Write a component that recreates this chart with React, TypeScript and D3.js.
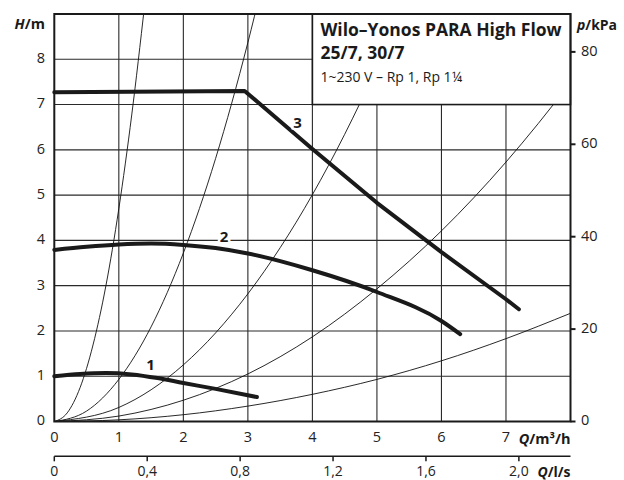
import React from "react";
import * as d3 from "d3";

// ---------- data ----------
const flowTicks = [0, 1, 2, 3, 4, 5, 6, 7];
const headTicks = [0, 1, 2, 3, 4, 5, 6, 7, 8];
const kpaTicks = [0, 20, 40, 60, 80];
const lsTicks = ["0", "0,4", "0,8", "1,2", "1,6", "2,0"];
const lsValues = [0, 0.4, 0.8, 1.2, 1.6, 2.0];

// pump curves (Q m³/h, H m)
const curve1Q = [0, 0.4, 0.8, 1.2, 1.6, 2.0, 2.5, 3.14];
const curve1H = [1.0, 1.05, 1.07, 1.04, 0.96, 0.85, 0.72, 0.54];
const curve2Q = [0, 0.5, 1, 1.5, 2, 2.5, 3, 4, 5, 6, 6.29];
const curve2H = [3.79, 3.86, 3.91, 3.93, 3.9, 3.83, 3.71, 3.34, 2.86, 2.22, 1.93];
const curve3Q = [0, 2.95, 4, 5, 6, 7, 7.2];
const curve3H = [7.27, 7.3, 6.02, 4.83, 3.74, 2.7, 2.48];

// system curves (thin)
const sysAQ = [0, 0.2, 0.4, 0.6, 0.8, 1.0, 1.2, 1.4];
const sysAH = [0, 0.19, 0.75, 1.69, 3.0, 4.7, 6.77, 9.2];
const sysBQ = [0, 0.5, 1, 1.5, 2, 2.5, 3, 3.2];
const sysBH = [0, 0.23, 0.93, 2.09, 3.72, 5.81, 8.37, 9.52];
const sysCQ = [0, 1, 2, 3, 4, 5, 5.5];
const sysCH = [0, 0.31, 1.25, 2.82, 5.01, 7.83, 9.47];
const sysDQ = [0, 1, 2, 3, 4, 5, 6, 7, 8, 8.8];
const sysDH = [0, 0.12, 0.47, 1.05, 1.87, 2.93, 4.21, 5.73, 7.49, 9.06];
const sysEQ = [0, 1, 2, 3, 4, 5, 6, 7, 8];
const sysEH = [0, 0.037, 0.15, 0.34, 0.6, 0.93, 1.34, 1.83, 2.39];

const curveLabels = ["1", "2", "3"];
const labelQ = [1.49, 2.63, 3.77];
const labelH = [1.23, 4.06, 6.58];

const titleLines = ["Wilo–Yonos PARA High Flow", "25/7, 30/7"];
const subtitle = "1~230 V – Rp 1, Rp 1¼";

// ---------- layout ----------
const W = 624;
const H = 480;
const FONT = "'Open Sans', 'DejaVu Sans', sans-serif";

const x = d3.scaleLinear().domain([0, 8]).range([54.3, 570.5]);
const y = d3.scaleLinear().domain([0, 9]).range([421.5, 14]);
const yKpa = d3.scaleLinear().domain([0, 88.2]).range([421.5, 14]);
const xLs = d3.scaleLinear().domain([0, 8 / 3.6]).range([54.3, 570.5]);

const zip = (q: number[], h: number[]) => q.map((v, i) => [v, h[i]] as [number, number]);
const line = d3
  .line<[number, number]>()
  .x((d) => x(d[0]))
  .y((d) => y(d[1]))
  .curve(d3.curveMonotoneX);
const straight = d3
  .line<[number, number]>()
  .x((d) => x(d[0]))
  .y((d) => y(d[1]));

export default function App() {
  const sys = [
    zip(sysAQ, sysAH),
    zip(sysBQ, sysBH),
    zip(sysCQ, sysCH),
    zip(sysDQ, sysDH),
    zip(sysEQ, sysEH),
  ];
  const pumps = [zip(curve1Q, curve1H), zip(curve2Q, curve2H), zip(curve3Q, curve3H)];
  const [x0, x1] = x.range();
  const yTop = y(9);
  const yBot = y(0);
  const lsY = 456.3;

  return (
    <svg
      width={W}
      height={H}
      style={{ position: "absolute", left: 0, top: 0, background: "#fff" }}
      fontFamily={FONT}
    >
      <defs>
        <clipPath id="plot">
          <rect x={x0} y={yTop} width={x1 - x0} height={yBot - yTop} />
        </clipPath>
      </defs>
      <rect width={W} height={H} fill="#fff" />
      {/* grid */}
      <g stroke="#2a2a2a" strokeWidth={1.1}>
        {d3.range(1, 8).map((v) => (
          <line key={"gx" + v} x1={x(v)} x2={x(v)} y1={yTop} y2={yBot} />
        ))}
        {d3.range(1, 9).map((v) => (
          <line key={"gy" + v} x1={x0} x2={x1} y1={y(v)} y2={y(v)} />
        ))}
      </g>
      {/* system curves */}
      <g clipPath="url(#plot)" fill="none" stroke="#111" strokeWidth={0.9}>
        {sys.map((s, i) => (
          <path key={"s" + i} d={line(s) || ""} />
        ))}
      </g>
      {/* pump curves */}
      <g fill="none" stroke="#1a1a1a" strokeWidth={4} strokeLinecap="round" strokeLinejoin="round">
        {pumps.map((p, i) => (
          <path key={"p" + i} d={(i === 2 ? straight(p) : line(p)) || ""} />
        ))}
      </g>
      {/* curve labels */}
      {curveLabels.map((t, i) => (
        <text
          key={"cl" + i}
          x={x(labelQ[i])}
          y={y(labelH[i])}
          textAnchor="middle"
          dominantBaseline="middle"
          fontSize={15}
          fontWeight="bold"
          fill="#1a1a1a"
          stroke="#fff"
          strokeWidth={5}
          paintOrder="stroke"
        >
          {t}
        </text>
      ))}
      {/* legend box */}
      <rect x={x(4)} y={yTop} width={x(8) - x(4)} height={y(7) - yTop} fill="#fff" stroke="#1a1a1a" strokeWidth={1.6} />
      <text x={x(4) + 8} y={36} fontSize={17.5} fontWeight="bold" fill="#1a1a1a">
        {titleLines[0]}
      </text>
      <text x={x(4) + 8} y={58.5} fontSize={17.5} fontWeight="bold" fill="#1a1a1a">
        {titleLines[1]}
      </text>
      <text x={x(4) + 8} y={81.5} fontSize={14} fill="#1a1a1a">
        {subtitle}
      </text>
      {/* frame */}
      <rect x={x0} y={yTop} width={x1 - x0} height={yBot - yTop} fill="none" stroke="#1a1a1a" strokeWidth={2} />
      {/* left axis labels */}
      {headTicks.map((v) => (
        <text key={"hl" + v} x={45} y={y(v)} textAnchor="end" dominantBaseline="middle" fontSize={14.5} fill="#222">
          {v}
        </text>
      ))}
      <text x={45} y={29} textAnchor="end" fontSize={14.5} fontWeight="bold" fill="#1a1a1a">
        <tspan fontStyle="italic">H</tspan>/m
      </text>
      {/* right axis */}
      {kpaTicks.map((v) => (
        <g key={"kp" + v}>
          <line x1={x1} x2={x1 + 5} y1={yKpa(v)} y2={yKpa(v)} stroke="#1a1a1a" strokeWidth={2} />
          <text x={581} y={yKpa(v)} dominantBaseline="middle" fontSize={14.5} fill="#222">
            {v}
          </text>
        </g>
      ))}
      <text x={577} y={30} fontSize={14} fontWeight="bold" fill="#1a1a1a">
        <tspan fontStyle="italic">p</tspan>/kPa
      </text>
      {/* bottom axis m3/h */}
      {flowTicks.map((v) => (
        <text key={"fq" + v} x={x(v)} y={438.5} textAnchor="middle" dominantBaseline="middle" fontSize={14.5} fill="#222">
          {v}
        </text>
      ))}
      <text x={x1} y={443.5} textAnchor="end" fontSize={14.5} fontWeight="bold" fill="#1a1a1a">
        <tspan fontStyle="italic">Q</tspan>/m³/h
      </text>
      {/* bottom axis l/s */}
      <line x1={x0} x2={x1} y1={lsY} y2={lsY} stroke="#1a1a1a" strokeWidth={1.5} />
      {lsValues.map((v, i) => (
        <g key={"ls" + i}>
          <line x1={xLs(v)} x2={xLs(v)} y1={lsY} y2={lsY + 5} stroke="#1a1a1a" strokeWidth={1.5} />
          <text x={xLs(v)} y={472} textAnchor="middle" dominantBaseline="middle" fontSize={14} fill="#222">
            {lsTicks[i]}
          </text>
        </g>
      ))}
      <text x={x1} y={477} textAnchor="end" fontSize={14} fontWeight="bold" fill="#1a1a1a">
        <tspan fontStyle="italic">Q</tspan>/l/s
      </text>
    </svg>
  );
}
